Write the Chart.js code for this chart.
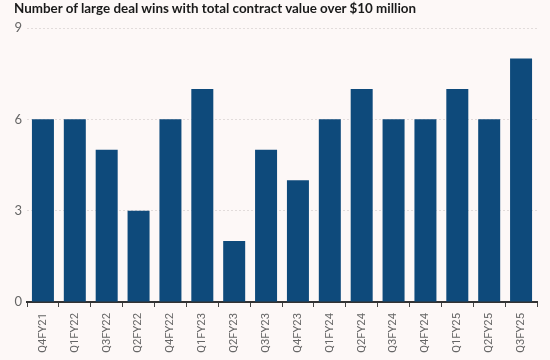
<!DOCTYPE html>
<html>
<head>
<meta charset="utf-8">
<script src="https://cdn.jsdelivr.net/npm/chart.js@4"></script>
<style>
html,body{margin:0;padding:0;background:#fdf8f7;}
#wrap{width:550px;height:360px;position:relative;}
#title{position:absolute;left:14px;top:0px;font-family:Lato,sans-serif;font-weight:bold;font-size:13.4px;line-height:16px;color:#1a1a1a;white-space:nowrap;}
canvas{position:absolute;left:0;top:0;}
</style>
</head>
<body>
<div id="wrap"><canvas id="c" width="550" height="360"></canvas><div id="title"></div></div>
<script>
const categories = ["Q4FY21","Q1FY22","Q3FY22","Q2FY22","Q4FY22","Q1FY23","Q2FY23","Q3FY23","Q4FY23","Q1FY24","Q2FY24","Q3FY24","Q4FY24","Q1FY25","Q2FY25","Q3FY25"];
const dealWins = [6,6,5,3,6,7,2,5,4,6,7,6,6,7,6,8];
const yTicks = [0,3,6,9];
const titleText = "Number of large deal wins with total contract value over $10 million";
document.getElementById('title').textContent = titleText;

new Chart(document.getElementById('c'), {
  type: 'bar',
  data: {
    labels: categories,
    datasets: [{
      data: dealWins,
      backgroundColor: '#0e4a7b',
      categoryPercentage: 1,
      barPercentage: 0.69
    }]
  },
  options: {
    responsive: false,
    animation: false,
    layout: { padding: { left: 4, right: 13, top: 28, bottom: 0 } },
    plugins: {
      legend: { display: false },
      tooltip: { enabled: false },
      title: { display: false }
    },
    scales: {
      x: {
        afterFit: (s) => { s.height = 58; },
        grid: { display: true, drawOnChartArea: false, drawTicks: true, tickLength: 5, color: '#444', lineWidth: 1 },
        border: { display: true, color: '#333', width: 2 },
        ticks: { maxRotation: 90, minRotation: 90, color: '#666', font: { family: 'Roboto', size: 11.3 }, padding: 6 }
      },
      y: {
        min: 0, max: 9,
        afterBuildTicks: (s) => { s.ticks = yTicks.map(v => ({ value: v })); },
        afterFit: (s) => { s.width = 23; },
        grid: { color: '#e2dcdb', lineWidth: 1, drawTicks: false },
        border: { display: false, dash: [2, 2] },
        ticks: { color: '#666', font: { family: 'Lato', size: 13 }, padding: 5 }
      }
    }
  }
});
</script>
</body>
</html>
